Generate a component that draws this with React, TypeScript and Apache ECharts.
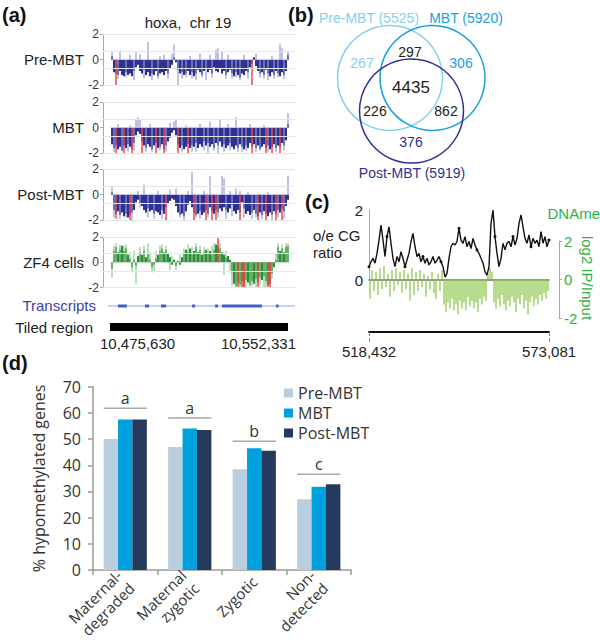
import React, { useEffect, useRef } from 'react';
import * as echarts from 'echarts';

// ---------------- DATA ----------------
// Panel (a): hoxa, chr 19 tracks (log2 values, one bar per probe window)
const preMbtFill = [0.3,-1.0,-1.1,-1.2,-0.9,-1.2,-1.3,-1.0,-1.2,-1.1,-1.3,-0.9,-0.6,-0.4,-0.9,-1.1,-0.8,-1.2,-1.0,-1.3,-1.1,-1.2,-0.9,-1.3,-1.1,-1.0,-1.2,-0.9,-1.1,-0.7,-0.4,0.2,-0.2,-0.8,-1.1,-1.0,-1.2,-1.1,-0.9,-1.2,-1.0,-1.3,-1.1,-0.8,-1.0,-1.2,-0.9,-0.7,-1.0,-0.8,-1.1,-0.6,-0.9,-1.0,-0.7,-1.1,-0.9,-1.2,-1.0,-0.8,-1.1,-1.3,-1.0,-1.2,-1.4,-1.1,-1.2,-0.9,-1.0,-0.6,-0.3,0.2,-0.5,-0.9,-1.1,-1.0,-1.2,-0.8,-1.1,-1.3,-1.0,-1.2,-0.9,-1.1,-1.3,-1.0,-1.2,-0.9,0.4];
const preMbtSpikes = [[0,0.6],[3,-1.5],[4,0.7],[7,-1.4],[9,0.4],[11,-1.6],[12,0.6],[14,0.5],[16,-1.5],[18,1.4],[20,-1.6],[23,-1.5],[24,0.3],[26,0.4],[28,-1.5],[30,0.5],[31,1.2],[33,-2.0],[35,-1.5],[37,-1.4],[39,0.3],[40,-1.5],[42,-1.6],[44,0.5],[45,-1.4],[47,-1.6],[49,0.4],[50,-1.4],[52,0.8],[53,0.9],[55,0.6],[57,-1.5],[58,0.4],[60,-1.5],[62,-1.4],[64,-1.6],[66,0.4],[68,-1.5],[72,0.5],[74,-1.4],[76,-1.5],[78,-1.6],[80,0.3],[81,-1.5],[83,-1.4],[84,1.2],[85,0.9],[86,-1.5],[88,0.7]];
const preMbtRed = [[2,-2.0],[70,-2.0]];

const mbtFill = [-1.3,-1.6,-1.4,-1.7,-1.5,-1.8,-1.4,-1.6,-1.3,-1.5,-1.7,-1.2,-0.6,-0.3,-0.5,-1.1,-1.4,-1.6,-1.3,-1.5,-1.7,-1.4,-1.2,-1.6,-1.5,-1.3,-1.7,-1.4,-1.1,-0.8,-0.4,-0.2,-0.6,-1.3,-1.6,-1.4,-1.7,-1.5,-1.3,-1.6,-1.4,-1.5,-1.2,-1.6,-1.3,-1.5,-1.1,-1.4,-1.2,-1.5,-1.3,-1.6,-1.2,-1.4,-1.1,-1.5,-1.3,-1.6,-1.4,-1.2,-1.5,-1.7,-1.4,-1.6,-1.3,-1.5,-1.7,-1.4,-1.6,-1.2,-1.5,-1.3,-1.6,-1.4,-1.7,-1.5,-1.3,-1.6,-1.4,-1.7,-1.5,-1.3,-1.6,-1.4,-1.5,-1.2,-1.4,-1.0,0.3];
const mbtSpikes = [[1,-1.9],[3,0.3],[5,-1.9],[8,-1.9],[9,0.2],[11,-1.8],[12,0.7],[13,0.8],[14,0.7],[17,-1.9],[19,0.3],[20,-1.9],[24,-1.8],[27,-1.9],[29,0.4],[31,0.5],[32,0.6],[35,-1.9],[37,0.2],[40,-1.9],[42,-1.9],[44,0.3],[46,-1.8],[48,-2.0],[49,0.5],[51,-1.8],[53,-2.0],[54,0.7],[56,-1.9],[58,0.3],[59,-1.8],[62,0.8],[63,-1.9],[65,-1.9],[67,-1.8],[69,0.3],[72,-1.9],[74,-1.8],[76,0.2],[78,-1.9],[82,-1.9],[86,-1.8],[88,1.15]];
const mbtRed = [[2,-2],[6,-2],[10,-2],[15,-2],[22,-2],[26,-2],[33,-2],[38,-2],[70,-2],[77,-2],[80,-2],[84,-2]];

const postMbtFill = [0.2,-1.2,-1.5,-1.3,-1.6,-1.4,-1.7,-1.5,-1.8,-1.6,-1.4,-1.2,-0.6,-0.4,-0.7,-0.9,-1.2,-1.4,-1.1,-1.3,-1.2,-1.5,-1.3,-1.4,-1.6,-1.2,-1.5,-1.0,-0.7,-0.5,-0.3,-0.4,-0.9,-1.4,-1.6,-1.5,-1.7,-1.3,-0.8,-0.5,-1.0,-1.4,-1.6,-1.5,-1.3,-1.6,-1.4,-1.2,-1.5,-1.0,-1.3,-1.5,-1.2,-1.4,-1.1,-1.3,-1.0,-1.2,-1.4,-1.1,-0.8,-1.3,-1.5,-1.2,-1.4,-0.6,-1.1,-1.5,-1.3,-1.6,-1.4,-1.2,-1.5,-1.7,-1.4,-1.6,-1.3,-1.5,-1.7,-1.4,-1.6,-1.3,-1.5,-1.2,-1.4,-1.1,-1.3,-0.9,-0.4];
const postMbtSpikes = [[0,0.6],[1,-1.8],[4,-1.9],[7,-1.8],[10,-2.0],[13,0.3],[14,-1.0],[16,0.8],[18,-1.8],[21,-1.9],[23,0.3],[25,-1.9],[29,0.4],[32,0.5],[34,-1.8],[36,-2.0],[38,0.3],[40,1.8],[42,-1.8],[44,-1.9],[46,0.3],[48,-1.8],[49,1.5],[53,-1.8],[55,1.5],[56,1.3],[57,-1.9],[59,0.3],[60,-1.7],[62,0.5],[64,0.3],[66,-1.8],[68,0.2],[70,-1.9],[72,-1.8],[75,-1.9],[78,0.2],[80,-2.0],[83,-1.8],[86,-1.9],[88,1.5]];
const postMbtRed = [[2,-1.9],[9,-2],[27,-2],[41,-2],[47,-2],[50,-2],[52,-2],[64,-2],[73,-2],[77,-2],[82,-2],[85,-2]];

const zf4Fill = [-0.5,0.9,1.2,0.8,1.0,1.3,0.9,1.1,0.6,0.3,-0.4,0.2,-0.3,0.5,0.8,0.6,0.9,0.4,0.7,0.2,-0.4,-0.2,0.3,0.6,0.9,1.1,0.8,1.0,0.7,0.4,-0.2,0.2,-0.3,0.1,-0.2,0.4,0.7,1.0,0.8,1.1,0.6,0.9,1.2,0.8,1.0,0.6,0.8,1.0,0.7,0.9,0.6,1.0,1.4,1.3,1.1,0.8,0.6,0.4,0.5,0.2,-0.8,-1.7,-1.9,-1.6,-1.8,-1.5,-1.9,-1.4,-1.6,-1.8,-1.5,-1.7,-1.3,-1.6,-1.2,-1.4,-1.1,-1.5,-1.8,-1.7,-0.9,-0.4,0.2,1.2,0.9,1.1,0.8,1.2,1.3];
const zf4Spikes = [[0,-1.2],[1,1.3],[2,1.5],[4,1.4],[6,1.3],[7,1.4],[9,0.8],[10,-0.8],[11,0.9],[12,-1.7],[14,1.2],[16,1.3],[18,1.5],[19,0.8],[20,-0.7],[21,-0.8],[22,0.9],[24,1.3],[25,1.4],[27,1.3],[29,-0.6],[30,0.5],[32,-0.6],[34,0.6],[36,1.1],[38,1.4],[40,1.2],[42,1.5],[44,1.3],[46,1.2],[48,1.1],[50,1.3],[51,1.5],[54,1.5],[56,-1.0],[57,0.9],[59,-0.7],[60,-1.9],[62,-2.0],[64,-2.0],[67,-2.0],[69,-2.0],[70,-1.9],[72,-2.0],[74,-1.8],[76,-2.0],[77,-2.0],[80,-1.3],[82,0.7],[83,1.5],[85,1.4],[87,1.5],[88,1.5]];
const zf4Red = [[53,2.0],[63,-2],[65,-2],[66,-2],[73,-2],[78,-2],[79,-2]];

const trackLabels = ['Pre-MBT', 'MBT', 'Post-MBT', 'ZF4 cells'];
const tiledRegion = [10475630, 10552331];
const tiledLabels = ['10,475,630', '10,552,331'];
const transcripts = [[10479100, 10482900],[10490700, 10492500],[10497600, 10499800],[10511000, 10512300],[10520900, 10522200],[10523900, 10541100],[10547200, 10548000]];

// Panel (b): Venn
const vennSetNames = ['Pre-MBT', 'MBT', 'Post-MBT'];
const vennSetSizes = [5525, 5920, 5919];
// only Pre, only MBT, only Post, Pre&MBT, Pre&Post, MBT&Post, all
const vennRegionCounts = [267, 306, 376, 297, 226, 862, 4435];

// Panel (c)
const cgRatio = [0.38,0.52,0.62,0.48,0.76,1.14,1.57,1.14,0.67,1.24,1.52,1.05,0.62,0.38,0.67,0.52,0.81,0.62,0.38,0.57,0.76,1.10,1.33,0.95,0.67,0.76,0.52,0.67,0.48,0.62,0.43,0.52,0.67,0.48,0.57,0.67,0.52,0.38,0.08,0.19,0.62,0.95,1.05,1.00,1.10,1.48,1.14,1.05,1.24,0.95,1.10,0.90,1.19,1.00,0.86,0.76,0.62,0.48,0.24,0.14,0.38,1.62,2.0,1.24,0.76,0.38,0.62,1.05,0.86,1.05,1.10,0.95,1.24,1.00,1.19,1.62,1.86,1.52,1.19,1.05,1.29,0.95,1.19,1.05,1.14,0.95,1.38,1.05,1.24,0.95,1.14];
const dnaMe = [-1.0,0.5,-0.6,0.4,-0.8,0.6,-0.5,0.7,-0.4,0.3,-0.9,0.5,-0.6,0.6,-0.3,0.4,-0.7,0.5,-0.5,0.3,-1.1,0.6,-0.8,0.4,-0.6,0.5,-0.4,0.3,-0.9,0.2,-0.5,0.4,-0.7,-1.0,0.3,-0.6,0.5,-1.3,-1.7,-1.2,-1.5,-1.0,-1.6,-1.3,-1.8,-1.1,-1.5,-1.2,-1.6,-0.9,-1.4,-1.1,-1.5,-1.2,-1.7,-1.0,-1.3,-0.9,-1.1,0.3,0.6,0.4,-1.2,-1.5,-1.0,-1.4,-0.8,-1.3,-1.6,-1.1,-1.4,-0.9,-1.2,-1.7,-1.0,-1.3,-0.8,-1.5,-1.1,-1.8,-1.2,-0.9,-1.4,-1.0,-1.3,-0.8,-1.1,-0.7,-1.0,-0.6];
const cRegion = [518432, 573081];

// Panel (d)
const geneClasses = ['Maternal-\ndegraded', 'Maternal\nzygotic', 'Zygotic', 'Non-\ndetected'];
const stageNames = ['Pre-MBT', 'MBT', 'Post-MBT'];
const preMbtPct = [50, 47, 38.5, 27];
const mbtPct = [57.5, 54, 46.5, 31.8];
const postMbtPct = [57.5, 53.5, 45.5, 32.7];
const sigLetters = ['a', 'a', 'b', 'c'];
const sigLevels = [61.8, 58, 49.2, 36.6];

// ---------------- STYLE ----------------
const FONT = '"Liberation Sans", Arial, sans-serif';
const FONT_D = '"Open Sans", "Liberation Sans", sans-serif';
const GREEN = '#2fb04a';

function buildOption() {
  const grids: any[] = [];
  const xAxes: any[] = [];
  const yAxes: any[] = [];
  const series: any[] = [];
  const graphic: any[] = [];

  const txt = (x: number, y: number, text: string, font: string, fill = '#222', align = 'center', rotation = 0) => ({
    type: 'text', x, y, rotation, silent: true,
    style: { text, font, fill, align, verticalAlign: 'middle', textAlign: align, textVerticalAlign: 'middle' },
  });

  // ---- panel (a) tracks ----
  const tracks = [
    { fill: preMbtFill, spikes: preMbtSpikes, red: preMbtRed, dark: '#2e3192', light: '#9699d2', zero: '#8387c9', top: 34.4 },
    { fill: mbtFill, spikes: mbtSpikes, red: mbtRed, dark: '#2e3192', light: '#9699d2', zero: '#8387c9', top: 102.4 },
    { fill: postMbtFill, spikes: postMbtSpikes, red: postMbtRed, dark: '#2e3192', light: '#9699d2', zero: '#8387c9', top: 169.4 },
    { fill: zf4Fill, spikes: zf4Spikes, red: zf4Red, dark: '#2f8c3c', light: '#8cc98c', zero: '#9fd09f', top: 237 },
  ];
  const PADL = 4, PADR = 3;
  tracks.forEach((t, k) => {
    const gi = grids.length;
    grids.push({ left: 103, top: t.top, width: 192, height: 50.6 });
    const n = t.fill.length + PADL + PADR;
    const cats = Array.from({ length: n }, (_, i) => String(i));
    const fillData: (number | null)[] = new Array(n).fill(null);
    t.fill.forEach((v, i) => { fillData[i + PADL] = v; });
    const spikeData: (number | null)[] = new Array(n).fill(null);
    t.spikes.forEach(([i, v]) => { spikeData[i + PADL] = v; });
    const redData: (number | null)[] = new Array(n).fill(null);
    t.red.forEach(([i, v]) => { redData[i + PADL] = v; });
    const yi = yAxes.length;
    yAxes.push({
      gridIndex: gi, type: 'value', min: -2, max: 2, interval: 2,
      axisLine: { show: true, lineStyle: { color: '#a8a8a8' } },
      axisTick: { show: true, length: 3, lineStyle: { color: '#a8a8a8' } },
      axisLabel: { fontSize: 12, color: '#333', margin: 4, fontFamily: FONT },
      splitLine: { show: false },
    });
    const mk = (show: boolean) => ({
      gridIndex: gi, type: 'category', data: cats, show, position: 'bottom', boundaryGap: true,
      axisLabel: { show: false }, axisTick: { show: false },
      axisLine: { show: true, onZero: true, lineStyle: { color: t.zero, width: 1 } },
      splitLine: { show: false },
    });
    const xs = xAxes.length; xAxes.push(mk(false));
    const xf = xAxes.length; xAxes.push(mk(true));
    const xr = xAxes.length; xAxes.push(mk(false));
    series.push({
      type: 'line', xAxisIndex: xs, yAxisIndex: yi, data: [], z: 0, silent: true,
      markLine: {
        silent: true, symbol: 'none', label: { show: false },
        lineStyle: { color: '#e6e6e6', type: 'solid', width: 1 },
        data: [{ yAxis: 2 }, { yAxis: 0.7 }, { yAxis: -0.7 }, { yAxis: -2 }],
      },
    });
    series.push({ type: 'bar', name: 'trk-fill-' + k, xAxisIndex: xf, yAxisIndex: yi, data: fillData, barCategoryGap: '0%', itemStyle: { color: t.dark }, z: 2, silent: true });
    series.push({ type: 'bar', name: 'trk-spike-' + k, xAxisIndex: xs, yAxisIndex: yi, data: spikeData, barWidth: 1.2, itemStyle: { color: t.light }, z: 3, silent: true });
    series.push({ type: 'bar', name: 'trk-red-' + k, xAxisIndex: xr, yAxisIndex: yi, data: redData, barWidth: 1.5, itemStyle: { color: '#ef4a4a' }, z: 4, silent: true });
    graphic.push(txt(84, t.top + 25.3, trackLabels[k], `15px ${FONT}`, '#222', 'right'));
  });

  // transcripts + tiled region
  {
    const gi = grids.length;
    grids.push({ left: 110, top: 300, width: 178, height: 30 });
    const xi = xAxes.length;
    xAxes.push({ gridIndex: gi, type: 'value', min: tiledRegion[0], max: tiledRegion[1], show: false });
    const yi = yAxes.length;
    yAxes.push({ gridIndex: gi, type: 'value', min: 0, max: 1, show: false });
    series.push({
      type: 'custom', name: 'transcripts', xAxisIndex: xi, yAxisIndex: yi, data: transcripts, silent: true, clip: false,
      encode: { x: [0, 1] },
      renderItem: (params: any, api: any) => {
        const p1 = api.coord([api.value(0), 0.8]);
        const p2 = api.coord([api.value(1), 0.8]);
        return { type: 'rect', shape: { x: p1[0], y: p1[1] - 1.5, width: Math.max(p2[0] - p1[0], 2.5), height: 3 }, style: { fill: '#4060c8' } };
      },
    });
    series.push({
      type: 'custom', name: 'tiled', xAxisIndex: xi, yAxisIndex: yi, data: [tiledRegion], silent: true, clip: false,
      encode: { x: [0, 1] },
      renderItem: (params: any, api: any) => {
        const p1 = api.coord([api.value(0), 0.1]);
        const p2 = api.coord([api.value(1), 0.1]);
        return { type: 'rect', shape: { x: p1[0], y: p1[1] - 4, width: p2[0] - p1[0], height: 8 }, style: { fill: '#000' } };
      },
    });
  }
  graphic.push({ type: 'line', silent: true, shape: { x1: 108, y1: 306, x2: 295, y2: 306 }, style: { stroke: '#8ea8e2', lineWidth: 1 } });
  graphic.push(txt(96, 305, 'Transcripts', `15px ${FONT}`, '#3c3fa8', 'right'));
  graphic.push(txt(93, 327, 'Tiled region', `15px ${FONT}`, '#222', 'right'));
  graphic.push(txt(100, 343, tiledLabels[0], `15px ${FONT}`, '#222', 'left'));
  graphic.push(txt(296, 343, tiledLabels[1], `15px ${FONT}`, '#222', 'right'));
  graphic.push(txt(188, 22, 'hoxa,  chr 19', `15px ${FONT}`, '#222', 'center'));
  graphic.push(txt(2, 15, '(a)', `bold 20px ${FONT}`, '#111', 'left'));

  // ---- panel (b) Venn ----
  graphic.push(txt(288, 15, '(b)', `bold 20px ${FONT}`, '#111', 'left'));
  const vennCircles = [
    { cx: 390, cy: 78, r: 52.5, color: '#86d0ef' },
    { cx: 432.5, cy: 78, r: 52.5, color: '#17a0df' },
    { cx: 411.5, cy: 111, r: 52, color: '#2e3192' },
  ];
  vennCircles.forEach((c) => {
    graphic.push({ type: 'circle', silent: true, shape: { cx: c.cx, cy: c.cy, r: c.r }, style: { fill: 'none', stroke: c.color, lineWidth: 1.5 } });
  });
  graphic.push(txt(369, 18, `${vennSetNames[0]} (${vennSetSizes[0]})`, `14px ${FONT}`, '#86d0ef', 'center'));
  graphic.push(txt(466, 18, `${vennSetNames[1]} (${vennSetSizes[1]})`, `14px ${FONT}`, '#17a0df', 'center'));
  graphic.push(txt(412, 173, `${vennSetNames[2]} (${vennSetSizes[2]})`, `14px ${FONT}`, '#2e3192', 'center'));
  const regionPos = [
    { x: 362, y: 63, c: '#86d0ef', s: 14 },
    { x: 461, y: 63, c: '#17a0df', s: 14 },
    { x: 411, y: 142, c: '#2e3192', s: 14 },
    { x: 410, y: 52, c: '#222', s: 14 },
    { x: 375, y: 111, c: '#222', s: 14 },
    { x: 446, y: 111, c: '#222', s: 14 },
    { x: 411, y: 87, c: '#222', s: 17 },
  ];
  vennRegionCounts.forEach((v, i) => {
    const p = regionPos[i];
    graphic.push(txt(p.x, p.y, String(v), `${p.s}px ${FONT}`, p.c, 'center'));
  });

  // ---- panel (c) ----
  graphic.push(txt(305, 202, '(c)', `bold 20px ${FONT}`, '#111', 'left'));
  graphic.push(txt(313, 235, 'o/e CG', `15px ${FONT}`, '#222', 'left'));
  graphic.push(txt(313, 252, 'ratio', `15px ${FONT}`, '#222', 'left'));
  graphic.push(txt(600, 213, 'DNAme', `15px ${FONT}`, GREEN, 'right'));
  graphic.push(txt(587, 278, 'log2 IP/Input', `15px ${FONT}`, GREEN, 'center', -Math.PI / 2));
  {
    const g1 = grids.length;
    grids.push({ left: 369, top: 210, width: 180, height: 70 });
    const g2 = grids.length;
    grids.push({ left: 369, top: 241, width: 180, height: 77 });
    const g3 = grids.length;
    grids.push({ left: 369, top: 300, width: 180, height: 32 });
    const x1 = xAxes.length;
    xAxes.push({ gridIndex: g1, type: 'category', data: cgRatio.map((_, i) => String(i)), boundaryGap: false, show: false });
    const x2 = xAxes.length;
    xAxes.push({
      gridIndex: g2, type: 'category', data: dnaMe.map((_, i) => String(i)), boundaryGap: true,
      axisLine: { show: true, onZero: true, lineStyle: { color: '#6d6d6d', width: 1.5 } },
      axisTick: { show: false }, axisLabel: { show: false },
    });
    const x3 = xAxes.length;
    xAxes.push({
      gridIndex: g3, type: 'value', min: cRegion[0], max: cRegion[1],
      axisLine: { show: true, lineStyle: { color: '#111', width: 2 } },
      axisTick: { show: true, customValues: cRegion, length: 11, lineStyle: { color: '#888', type: 'dashed', width: 1 } },
      axisLabel: {
        show: true, customValues: cRegion, margin: 12, fontSize: 15, color: '#222', fontFamily: FONT,
        formatter: (v: number) => String(Math.round(v)).replace(/\B(?=(\d{3})+(?!\d))/g, ','),
      },
      splitLine: { show: false },
    });
    const y1 = yAxes.length;
    yAxes.push({
      gridIndex: g1, type: 'value', min: 0, max: 2, interval: 2, position: 'left',
      axisLine: { show: true, lineStyle: { color: '#a8a8a8' } }, axisTick: { show: false },
      axisLabel: { fontSize: 15, color: '#222', margin: 6, fontFamily: FONT }, splitLine: { show: false },
    });
    const y2 = yAxes.length;
    yAxes.push({
      gridIndex: g2, type: 'value', min: -2, max: 2, interval: 2, position: 'right', offset: 10,
      axisLine: { show: true, lineStyle: { color: '#a8a8a8' } },
      axisTick: { show: true, length: 3, lineStyle: { color: '#a8a8a8' } },
      axisLabel: { fontSize: 15, color: GREEN, margin: 5, fontFamily: FONT }, splitLine: { show: false },
    });
    const y3 = yAxes.length;
    yAxes.push({ gridIndex: g3, type: 'value', show: false, min: 0, max: 1 });
    series.push({
      type: 'bar', name: 'dname', xAxisIndex: x2, yAxisIndex: y2, data: dnaMe, barWidth: 1.4, silent: true,
      itemStyle: { color: '#8cc84e', opacity: 0.9 }, z: 1,
    });
    series.push({
      type: 'line', name: 'cg', xAxisIndex: x1, yAxisIndex: y1, data: cgRatio, silent: true,
      showSymbol: true, symbol: 'circle', symbolSize: 3, itemStyle: { color: '#111' },
      lineStyle: { color: '#111', width: 1.4 }, z: 3,
    });
    series.push({ type: 'line', name: 'cscale', xAxisIndex: x3, yAxisIndex: y3, data: [], silent: true });
  }

  // ---- panel (d) ----
  graphic.push(txt(2, 363, '(d)', `bold 20px ${FONT}`, '#111', 'left'));
  {
    const gi = grids.length;
    grids.push({ left: 93, top: 386.7, width: 258, height: 183.3 });
    const xi = xAxes.length;
    xAxes.push({
      gridIndex: gi, type: 'category', data: geneClasses,
      axisLine: { show: true, lineStyle: { color: '#9a9a9a', width: 1.5 } },
      axisTick: { show: true, length: 5, alignWithLabel: false, lineStyle: { color: '#9a9a9a', width: 1.5 } },
      axisLabel: { interval: 0, rotate: 45, fontSize: 15, color: '#333', fontFamily: FONT_D, margin: 9, lineHeight: 18 },
    });
    const yi = yAxes.length;
    yAxes.push({
      gridIndex: gi, type: 'value', min: 0, max: 70, interval: 10,
      name: '% hypomethylated genes', nameLocation: 'middle', nameGap: 46,
      nameTextStyle: { fontSize: 16, color: '#333', fontFamily: FONT_D },
      axisLine: { show: true, lineStyle: { color: '#9a9a9a', width: 1.5 } },
      axisTick: { show: true, length: 5, lineStyle: { color: '#9a9a9a', width: 1.5 } },
      axisLabel: { fontSize: 16, color: '#333', fontFamily: FONT_D, margin: 12 },
      splitLine: { show: false },
    });
    const colors = ['#b9cfdf', '#00a0dc', '#263a5e'];
    [preMbtPct, mbtPct, postMbtPct].forEach((vals, i) => {
      series.push({
        type: 'bar', name: stageNames[i], xAxisIndex: xi, yAxisIndex: yi, data: vals,
        barGap: '0%', barCategoryGap: '33%', itemStyle: { color: colors[i] }, silent: true,
      });
    });
    series.push({
      type: 'custom', name: 'sig', xAxisIndex: xi, yAxisIndex: yi, silent: true, clip: false,
      data: sigLevels.map((v, i) => [i, v]),
      renderItem: (params: any, api: any) => {
        const c = api.coord([api.value(0), api.value(1)]);
        const bw = api.size([1, 0])[0];
        const half = (bw * 0.67) / 2;
        return {
          type: 'group',
          children: [
            { type: 'line', shape: { x1: c[0] - half, y1: c[1], x2: c[0] + half, y2: c[1] }, style: { stroke: '#a9a9a9', lineWidth: 1.5 } },
            { type: 'text', x: c[0], y: c[1] - 10, style: { text: sigLetters[params.dataIndex], font: `16px ${FONT_D}`, fill: '#333', align: 'center', verticalAlign: 'middle' } },
          ],
        };
      },
    });
  }

  return {
    animation: false,
    backgroundColor: '#fff',
    grid: grids,
    xAxis: xAxes,
    yAxis: yAxes,
    series,
    graphic,
    legend: {
      data: stageNames, orient: 'vertical', left: 279, top: 380, icon: 'rect',
      itemWidth: 9, itemHeight: 9, itemGap: 4, selectedMode: false,
      textStyle: { fontSize: 16, color: '#333', fontFamily: FONT_D },
    },
  };
}

export default function App() {
  const ref = useRef<HTMLDivElement>(null);
  useEffect(() => {
    if (!ref.current) return;
    const chart = echarts.init(ref.current, undefined, { renderer: 'svg' });
    chart.setOption(buildOption() as any);
    return () => chart.dispose();
  }, []);
  return <div ref={ref} style={{ position: 'absolute', left: 0, top: 0, width: 600, height: 642, background: '#fff' }} />;
}
